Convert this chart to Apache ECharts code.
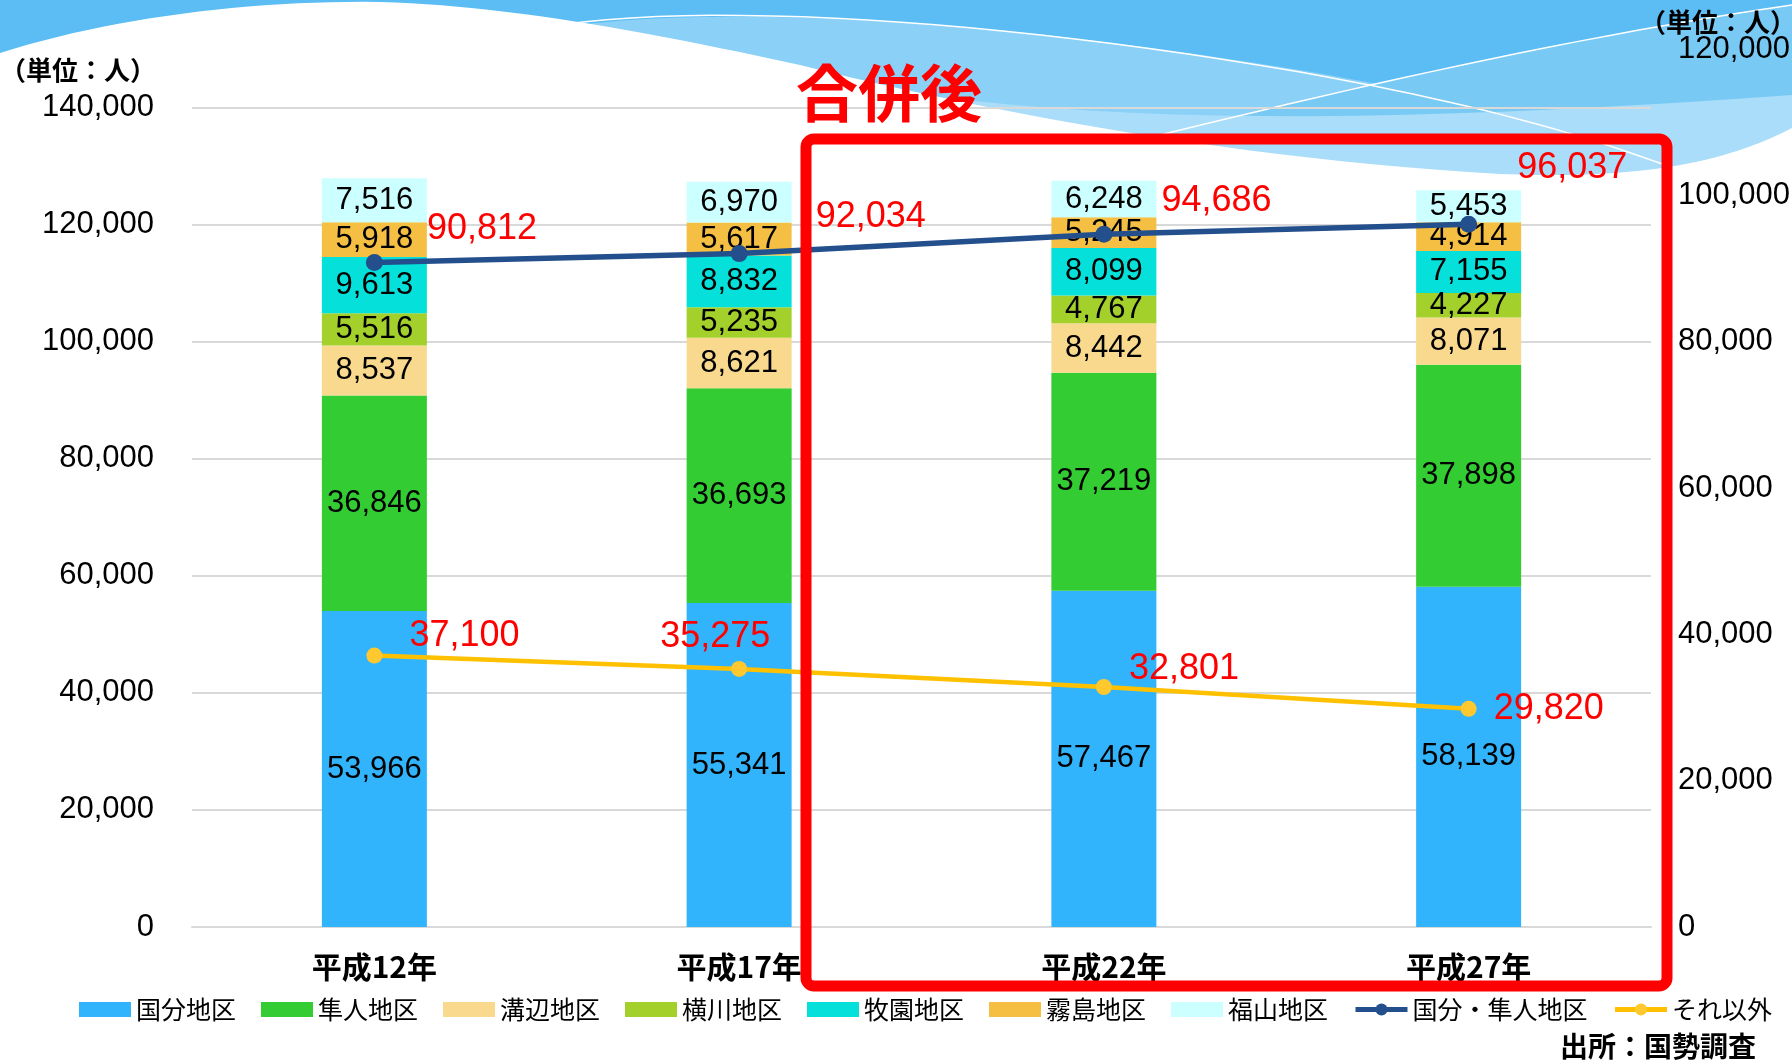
<!DOCTYPE html>
<html style="height: 100%">
<head>
    <meta charset="utf-8">
    <title>霧島市 地区別人口の推移</title>
</head>
<body style="height: 100%; margin: 0">
<div id="container" style="width:1792px;height:1063px"></div>
<script type="text/javascript" src="https://cdn.jsdelivr.net/npm/echarts@6/dist/echarts.min.js"></script>
<script type="text/javascript">
// 年次
var years = ['平成12年', '平成17年', '平成22年', '平成27年'];
// 地区別人口（積み上げ棒）
var kokubu    = [53966, 55341, 57467, 58139];
var hayato    = [36846, 36693, 37219, 37898];
var mizobe    = [8537, 8621, 8442, 8071];
var yokogawa  = [5516, 5235, 4767, 4227];
var makizono  = [9613, 8832, 8099, 7155];
var kirishima = [5918, 5617, 5245, 4914];
var fukuyama  = [7516, 6970, 6248, 5453];
// 折れ線（右軸）
var kokubuHayato = [90812, 92034, 94686, 96037];
var sonota       = [37100, 35275, 32801, 29820];
// 軸目盛
var leftTicks  = [0, 20000, 40000, 60000, 80000, 100000, 120000, 140000];
var rightTicks = [0, 20000, 40000, 60000, 80000, 100000, 120000];

// label placement for the red line values (style only)
var blueLabelOffset   = [[44, -33], [68, -37], [49, -33], [40, -56]];
var yellowLabelOffset = [[27, -19], [-87, -32], [17, -18], [17, 0]];

var NUM_FONT = '"Liberation Sans", Arial, sans-serif';
var JP_FONT = '"Noto Sans CJK JP", sans-serif';

function fmt(v) {
    return Number(v).toLocaleString('en-US');
}

// sample a chain of cubic bezier segments into points (for the wave decoration)
function curve(start, segs) {
    var pts = [start];
    var p = start;
    segs.forEach(function (s) {
        for (var i = 1; i <= 24; i++) {
            var t = i / 24, u = 1 - t;
            pts.push([
                u * u * u * p[0] + 3 * u * u * t * s[0] + 3 * u * t * t * s[2] + t * t * t * s[4],
                u * u * u * p[1] + 3 * u * u * t * s[1] + 3 * u * t * t * s[3] + t * t * t * s[5]
            ]);
        }
        p = [s[4], s[5]];
    });
    return pts;
}

var dom = document.getElementById('container');
var myChart = echarts.init(dom, null, {renderer: 'canvas'});

var barSeries = [
    ['国分地区', kokubu, '#32B4FC'],
    ['隼人地区', hayato, '#33CC33'],
    ['溝辺地区', mizobe, '#F8D98D'],
    ['横川地区', yokogawa, '#A4D02B'],
    ['牧園地区', makizono, '#05E0DA'],
    ['霧島地区', kirishima, '#F5BF44'],
    ['福山地区', fukuyama, '#CCFFFF']
].map(function (s) {
    return {
        name: s[0],
        type: 'bar',
        stack: 'pop',
        barWidth: 105,
        itemStyle: {color: s[2]},
        label: {
            show: true,
            position: 'inside',
            color: '#000',
            fontSize: 31,
            fontFamily: NUM_FONT,
            formatter: function (p) { return fmt(p.value); }
        },
        data: s[1]
    };
});

function lineData(values, offsets) {
    return values.map(function (v, i) {
        return {value: v, label: {offset: offsets[i]}};
    });
}

var lineLabel = {
    show: true,
    position: 'right',
    distance: 0,
    color: '#FF0000',
    fontSize: 36,
    fontFamily: NUM_FONT,
    formatter: function (p) { return fmt(p.value); }
};

var bandA = curve([500, 40], [[620, 5, 900, 5, 1300, 70], [1500, 105, 1650, 140, 1792, 160]]).concat([[1792, 220], [500, 220]]);
var bandB = curve([1100, 150], [[1300, 100, 1550, 40, 1792, 5]]).concat([[1792, 220], [1100, 220]]);
var bandC = curve([700, 55], [[1000, 125, 1300, 130, 1792, 95]]).concat([[1792, 220], [700, 220]]);
var whiteArea = curve([0, 53], [
    [110, 18, 250, 0, 380, 2],
    [500, 5, 640, 30, 800, 65],
    [1000, 115, 1250, 160, 1500, 174],
    [1650, 180, 1730, 160, 1792, 128]
]).concat([[1792, 1063], [0, 1063]]);
var line1 = curve([540, 28], [[700, 0, 1000, 20, 1300, 72], [1500, 108, 1600, 140, 1700, 178]]);
var line2 = curve([1100, 150], [[1300, 100, 1550, 40, 1792, 5]]);

var option = {
    animation: false,
    backgroundColor: '#fff',
    textStyle: {fontFamily: JP_FONT},
    grid: {left: 192, right: 141, top: 49, bottom: 136, outerBoundsMode: 'none'},
    legend: {
        left: 79,
        top: 997,
        padding: 0,
        itemGap: 25,
        itemWidth: 52,
        itemHeight: 15,
        textStyle: {fontSize: 25, color: '#000', fontFamily: JP_FONT},
        data: [
            {name: '国分地区', icon: 'rect'},
            {name: '隼人地区', icon: 'rect'},
            {name: '溝辺地区', icon: 'rect'},
            {name: '横川地区', icon: 'rect'},
            {name: '牧園地区', icon: 'rect'},
            {name: '霧島地区', icon: 'rect'},
            {name: '福山地区', icon: 'rect'},
            {name: '国分・隼人地区', lineStyle: {width: 5}},
            {name: 'それ以外', lineStyle: {width: 5}}
        ]
    },
    xAxis: {
        type: 'category',
        data: years,
        axisTick: {show: false},
        axisLine: {lineStyle: {color: '#D9D9D9', width: 2}},
        axisLabel: {
            margin: 25,
            fontSize: 30,
            fontWeight: 'bold',
            color: '#000',
            fontFamily: JP_FONT
        }
    },
    yAxis: [{
        type: 'value',
        min: leftTicks[0],
        max: 150000,
        interval: leftTicks[1] - leftTicks[0],
        axisLine: {show: false},
        axisTick: {show: false},
        splitLine: {show: true, showMaxLine: false, lineStyle: {color: '#D9D9D9', width: 2}},
        axisLabel: {
            margin: 38,
            fontSize: 31,
            color: '#000',
            fontFamily: NUM_FONT,
            showMaxLabel: false,
            formatter: function (v) { return leftTicks.indexOf(v) >= 0 ? fmt(v) : ''; }
        }
    }, {
        type: 'value',
        position: 'right',
        min: rightTicks[0],
        max: rightTicks[rightTicks.length - 1],
        interval: rightTicks[1] - rightTicks[0],
        axisLine: {show: false},
        axisTick: {show: false},
        splitLine: {show: false},
        axisLabel: {
            margin: 27,
            fontSize: 31,
            color: '#000',
            fontFamily: NUM_FONT,
            formatter: function (v) { return fmt(v); }
        }
    }],
    series: barSeries.concat([{
        name: '国分・隼人地区',
        type: 'line',
        yAxisIndex: 1,
        z: 5,
        symbol: 'circle',
        symbolSize: 17,
        lineStyle: {color: '#234F8C', width: 5.5},
        itemStyle: {color: '#234F8C'},
        label: lineLabel,
        data: lineData(kokubuHayato, blueLabelOffset)
    }, {
        name: 'それ以外',
        type: 'line',
        yAxisIndex: 1,
        z: 5,
        symbol: 'circle',
        symbolSize: 16,
        lineStyle: {color: '#FFC000', width: 4.5},
        itemStyle: {color: '#FFC82E'},
        label: lineLabel,
        data: lineData(sonota, yellowLabelOffset)
    }]),
    graphic: [
        // wave background
        {type: 'rect', z: -10, silent: true, shape: {x: 0, y: 0, width: 1792, height: 220}, style: {fill: '#5BBDF3'}},
        {type: 'polygon', z: -9, silent: true, shape: {points: bandA}, style: {fill: '#8BD0F7'}},
        {type: 'polygon', z: -9, silent: true, shape: {points: bandB}, style: {fill: '#79C9F5'}},
        {type: 'polygon', z: -8, silent: true, shape: {points: bandC}, style: {fill: '#A9DDF9'}},
        {type: 'polygon', z: -7, silent: true, shape: {points: whiteArea}, style: {fill: '#FFFFFF'}},
        {type: 'polyline', z: -6, silent: true, shape: {points: line1}, style: {stroke: '#FFFFFF', lineWidth: 1.5}},
        {type: 'polyline', z: -6, silent: true, shape: {points: line2}, style: {stroke: '#FFFFFF', lineWidth: 1.5}},
        // units
        {type: 'text', z: 10, left: 0, top: 57,
            style: {text: '（単位：人）', font: 'bold 26px "Noto Sans CJK JP"', fill: '#000'}},
        {type: 'text', z: 10, right: -4, top: 9,
            style: {text: '（単位：人）', font: 'bold 26px "Noto Sans CJK JP"', fill: '#000'}},
        // 合併後 box
        {type: 'rect', z: 20, silent: true,
            shape: {x: 806, y: 139, width: 861, height: 847, r: 8},
            style: {fill: null, stroke: '#FF0000', lineWidth: 11}},
        {type: 'text', z: 20, left: 796, top: 62,
            style: {text: '合併後', font: 'bold 62px "Noto Sans CJK JP"', fill: '#FF0000'}},
        // source
        {type: 'text', z: 10, right: 36, top: 1032,
            style: {text: '出所：国勢調査', font: 'bold 28px "Noto Sans CJK JP"', fill: '#000'}}
    ]
};

if (option && typeof option === 'object') {
    myChart.setOption(option);
}
</script>
</body>
</html>
